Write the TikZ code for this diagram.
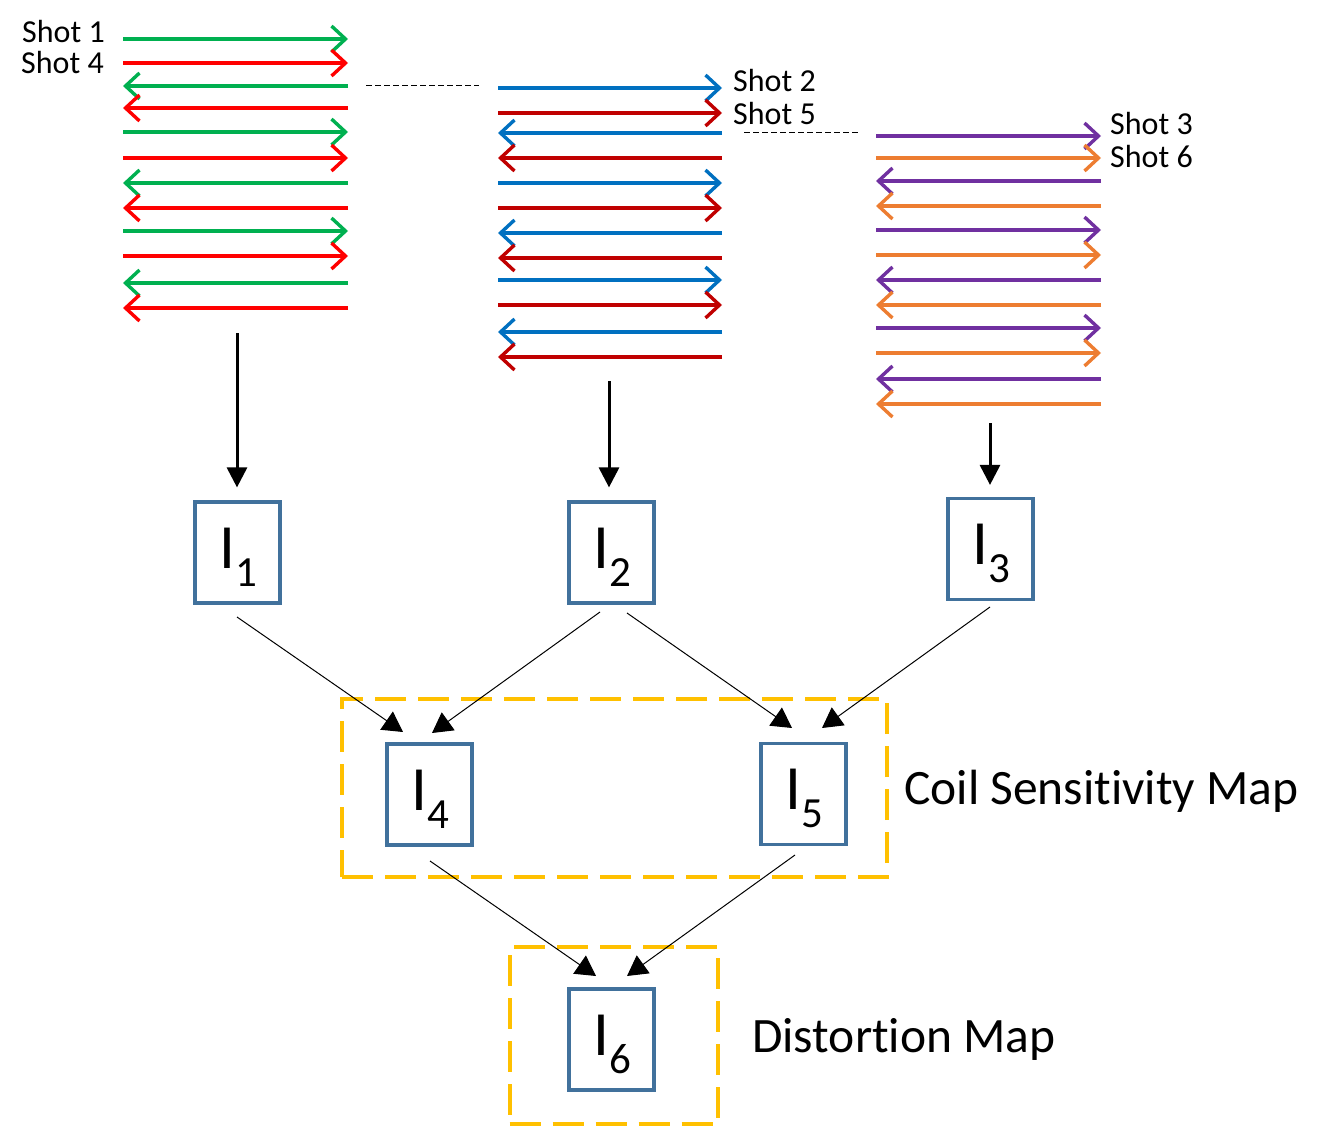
\documentclass[tikz,border=0pt]{standalone}
\usepackage{fontspec}
\setmainfont{Carlito}[Ligatures=CommonOff]
\usetikzlibrary{arrows.meta,calc}
\definecolor{cgreen}{HTML}{00B050}
\definecolor{cred}{HTML}{FF0000}
\definecolor{cblue}{HTML}{0070C0}
\definecolor{cdred}{HTML}{C00000}
\definecolor{cpurple}{HTML}{7030A0}
\definecolor{corange}{HTML}{ED7D31}
\definecolor{cbox}{HTML}{41719C}
\definecolor{cyel}{HTML}{FFC000}
\newcommand{\imgsub}[1]{\raisebox{-18pt}{\fontsize{43}{50}\selectfont #1}}
\begin{document}
\begin{tikzpicture}[x=1pt,y=-1pt,
  shotline/.style={line width=3.4pt,-{Straight Barb[length=14pt,width=26pt]}},
  shotlab/.style={anchor=base west,inner sep=0pt,font=\fontsize{32}{38}\selectfont},
  biglab/.style={anchor=base west,inner sep=0pt,font=\fontsize{49.5}{58}\selectfont},
  imgbox/.style={draw=cbox,line width=3.2pt,minimum width=85pt,minimum height=101pt,inner sep=0pt},
  ilab/.style={anchor=base west,inner sep=0pt,font=\fontsize{63}{70}\selectfont},
  bigarrow/.style={line width=3pt,-{Triangle[length=20pt,width=20pt]}},
  thinarrow/.style={line width=1pt,-{Triangle[length=20pt,width=22pt]}},
  dashbox/.style={draw=cyel,line width=4pt,dash pattern=on 31pt off 12pt,inner sep=0pt},
  sepline/.style={line width=1pt,dash pattern=on 6pt off 3pt}]
\useasboundingbox (0,0) rectangle (1331,1126);
% group 1
\foreach \y/\c in {39/cgreen,63/cred,132/cgreen,158/cred,231/cgreen,256/cred}
  \draw[shotline,\c] (123,\y) -- (348,\y);
\foreach \y/\c in {86/cgreen,108/cred,183/cgreen,208/cred,283/cgreen,308/cred}
  \draw[shotline,\c] (348,\y) -- (123,\y);
% group 2
\foreach \y/\c in {88/cblue,113/cdred,183/cblue,208/cdred,280/cblue,305/cdred}
  \draw[shotline,\c] (498,\y) -- (722,\y);
\foreach \y/\c in {133/cblue,158/cdred,233/cblue,258/cdred,332/cblue,357/cdred}
  \draw[shotline,\c] (722,\y) -- (498,\y);
% group 3
\foreach \y/\c in {136/cpurple,158/corange,230/cpurple,255/corange,328/cpurple,353/corange}
  \draw[shotline,\c] (876,\y) -- (1101,\y);
\foreach \y/\c in {181/cpurple,206/corange,280/cpurple,305/corange,379/cpurple,404/corange}
  \draw[shotline,\c] (1101,\y) -- (876,\y);
% dashed separators
\coordinate (d1a) at (366,86); \coordinate (d1b) at (479,86);
\coordinate (d2a) at (744,133); \coordinate (d2b) at (858,133);
\draw[sepline] (d1a) -- (d1b);
\draw[sepline] (d2a) -- (d2b);
% shot labels
\node[shotlab] (s1) at (22,43) {Shot 1};
\node[shotlab] (s4) at (21,74) {Shot 4};
\node[shotlab] (s2) at (733,92) {Shot 2};
\node[shotlab] (s5) at (733,125) {Shot 5};
\node[shotlab] (s3) at (1110,135) {Shot 3};
\node[shotlab] (s6) at (1110,168) {Shot 6};
% dashed group boxes
\node[dashbox,minimum width=545pt,minimum height=178pt] (csm) at (614.5,788) {};
\node[dashbox,minimum width=208.5pt,minimum height=177pt] (dm) at (613.75,1035.5) {};
\node[biglab] (csmlab) at (904,804) {Coil Sensitivity Map};
\node[biglab] (dmlab) at (752,1052) {Distortion Map};
% image boxes
\node[imgbox] (i1) at (237.5,552.5) {};
\node[imgbox] (i2) at (611.5,552.5) {};
\node[imgbox] (i3) at (990.5,549) {};
\node[imgbox] (i4) at (429.5,794.5) {};
\node[imgbox] (i5) at (803.5,794) {};
\node[imgbox] (i6) at (611.5,1039.5) {};
\foreach \n/\k in {i1/1,i2/2,i3/3,i4/4,i5/5,i6/6}
  \node[ilab] (l\k) at ($(\n.center)+(-18.5,15.5)$) {I\imgsub{\k}};
% vertical arrows
\coordinate (a1) at (237,333);
\coordinate (a2) at (609,381);
\coordinate (a3) at (990,423);
\draw[bigarrow,shorten >=13pt] (a1) -- (a1 |- i1.north);
\draw[bigarrow,shorten >=13pt] (a2) -- (a2 |- i2.north);
\draw[bigarrow,shorten >=12pt] (a3) -- (a3 |- i3.north);
% thin arrows
\coordinate (b1) at (237,617);  \coordinate (t14) at (403,732);
\coordinate (b2a) at (600,612); \coordinate (t24) at (432,733);
\coordinate (b2b) at (627,613); \coordinate (t25) at (792,728);
\coordinate (b3) at (990,607);  \coordinate (t35) at (822,728);
\coordinate (b4) at (430,861);  \coordinate (t46) at (596,976);
\coordinate (b5) at (795,855);  \coordinate (t56) at (627,976);
\draw[thinarrow] (b1) -- (t14);
\draw[thinarrow] (b2a) -- (t24);
\draw[thinarrow] (b2b) -- (t25);
\draw[thinarrow] (b3) -- (t35);
\draw[thinarrow] (b4) -- (t46);
\draw[thinarrow] (b5) -- (t56);
\end{tikzpicture}
\end{document}
